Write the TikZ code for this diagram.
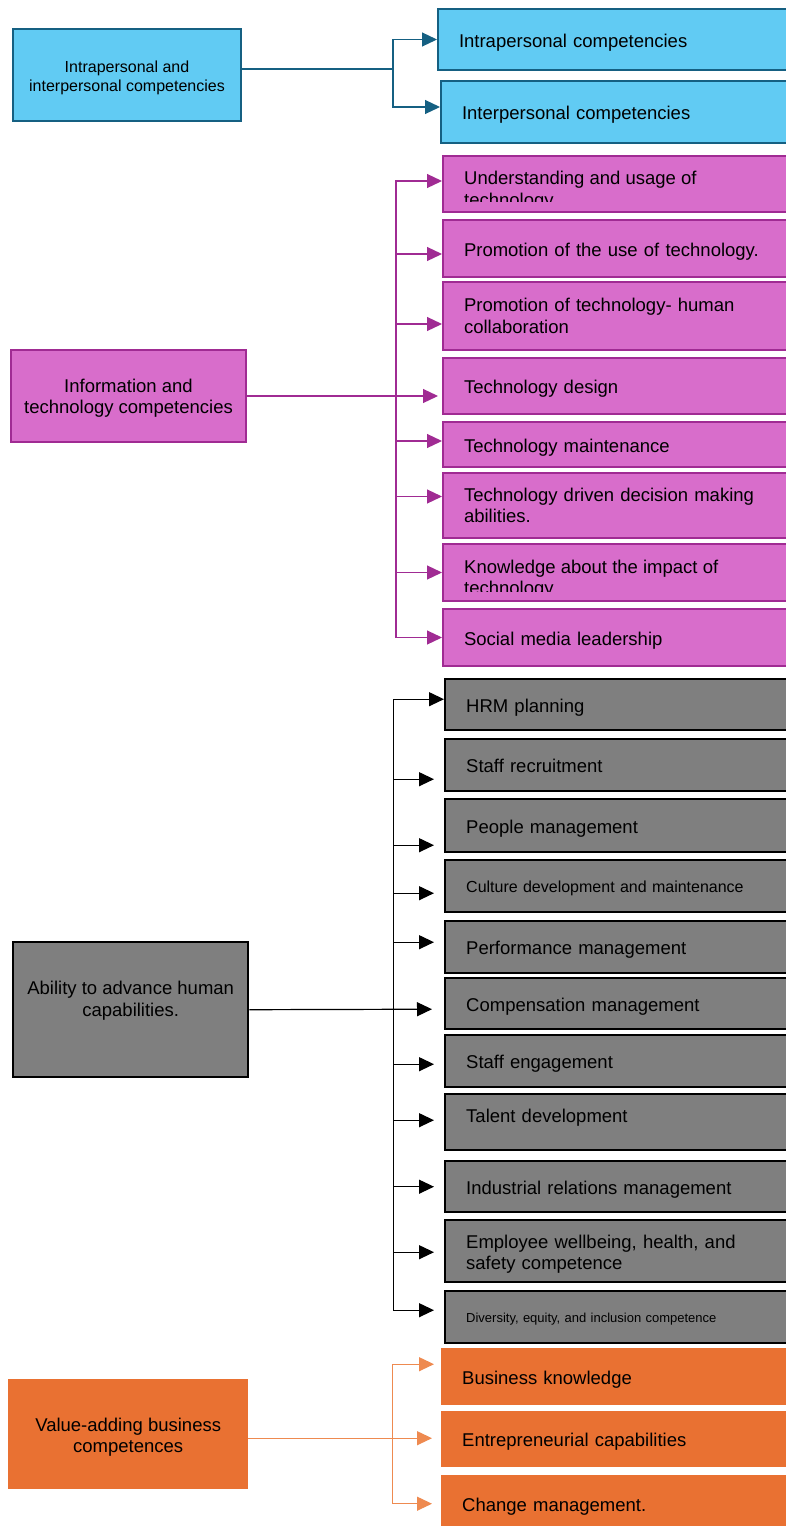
\documentclass[tikz,border=0pt]{standalone}
\usepackage{fontspec}
\setmainfont{Liberation Sans}
\usetikzlibrary{arrows.meta}

\definecolor{skyfill}{HTML}{61CBF3}
\definecolor{skyline}{HTML}{156082}
\definecolor{plumfill}{HTML}{D86DCB}
\definecolor{plumline}{HTML}{A02B93}
\definecolor{greyfill}{HTML}{7F7F7F}
\definecolor{tanfill}{HTML}{E97132}
\definecolor{tanline}{HTML}{EE8A50}

\begin{document}
\begin{tikzpicture}[x=1pt,y=-1pt,
    txt/.style={font=\fontsize{18.5}{21.5}\selectfont},
    catbox/.style={txt,anchor=north west,align=center,inner sep=0pt},
    itembox/.style={txt,anchor=north west,align=left,text width=330pt,%
      inner xsep=21pt,inner ysep=0pt,text height=15pt,text depth=0pt},
    twoline/.style={text height={},text depth={}},
    skybox/.style={fill=skyfill,draw=skyline,line width=2pt},
    plumbox/.style={fill=plumfill,draw=plumline,line width=2pt},
    greybox/.style={fill=greyfill,draw=black,line width=2.4pt},
    tanbox/.style={fill=tanfill},
    link/.style={line width=1.2pt,-{Triangle[length=15pt,width=14pt]}}]
      \useasboundingbox (0,0) rectangle (786,1526) ;

      % intrapersonal / interpersonal
      \node[catbox,skybox,minimum width=228pt,minimum height=92pt,%
      font=\fontsize{16}{19}\selectfont,text height=37pt] (IP) at (12,28) %
      {Intrapersonal and\\interpersonal competencies} ;
      \node[itembox,skybox,minimum height=61pt] (B1) at (437,8) %
      {Intrapersonal competencies} ;
      \node[itembox,skybox,minimum height=62pt] (B2) at (440,80) %
      {Interpersonal competencies} ;
      \draw[skyline,line width=1.2pt] ([yshift=6pt]IP.east) -- ++(151,0) %
      coordinate (skyjoin) ;
      \draw[link,skyline] (skyjoin) |- (B1.west) ;
      \draw[link,skyline] (skyjoin) |- ([yshift=5pt]B2.west) ;

      % information and technology
      \node[catbox,plumbox,minimum width=235pt,minimum height=92pt,%
      text height=39pt] (IT) at (10,349) %
      {Information and\\technology competencies} ;
      \node[itembox,plumbox,minimum height=56pt] (P1) at (442,155) {} ;
      \begin{scope}
        \clip (P1.north west) rectangle ([yshift=12pt]P1.south east) ;
        \node[txt,anchor=north west,align=left,inner sep=0pt] %
        at ([xshift=22pt,yshift=-16pt]P1.north west) %
        {Understanding and usage of\\technology} ;
      \end{scope}
      \node[itembox,plumbox,minimum height=57pt] (P2) at (442,219) %
      {Promotion of the use of technology.} ;
      \node[itembox,twoline,plumbox,minimum height=68pt] (P3) at (442,281) %
      {Promotion of technology- human\\collaboration} ;
      \node[itembox,plumbox,minimum height=56pt] (P4) at (442,357) %
      {Technology design} ;
      \node[itembox,plumbox,minimum height=45pt] (P5) at (442,421) %
      {Technology maintenance} ;
      \node[itembox,twoline,plumbox,minimum height=65pt] (P6) at (442,472) %
      {Technology driven decision making\\abilities.} ;
      \node[itembox,plumbox,minimum height=57pt] (P7) at (442,543) {} ;
      \begin{scope}
        \clip (P7.north west) rectangle ([yshift=11pt]P7.south east) ;
        \node[txt,anchor=north west,align=left,inner sep=0pt] %
        at ([xshift=22pt,yshift=-16.5pt]P7.north west) %
        {Knowledge about the impact of\\technology} ;
      \end{scope}
      \node[itembox,plumbox,minimum height=57pt] (P8) at (442,608) %
      {Social media leadership} ;
      \path (IT.east) -- ++(149,0) coordinate (plumjoin) ;
      \draw[link,plumline] (IT.east) -- ([xshift=-4pt,yshift=-10pt]P4.west) ;
      \foreach \b/\s in {P1/3,P2/-5.5,P3/-8,P5/3.5,P6/9,P7/0,P8/0}
        \draw[link,plumline] (plumjoin) |- ([yshift=\s pt]\b.west) ;

      % human capabilities
      \node[catbox,greybox,minimum width=235pt,minimum height=135pt,%
      text depth=22pt] (AH) at (12,941) %
      {Ability to advance human\\capabilities.} ;
      \node[itembox,greybox,minimum height=51pt] (G1) at (444,678) %
      {HRM planning} ;
      \node[itembox,greybox,minimum height=52pt] (G2) at (444,738) %
      {Staff recruitment} ;
      \node[itembox,greybox,minimum height=53pt] (G3) at (444,798) %
      {People management} ;
      \node[itembox,greybox,minimum height=52pt,%
      font=\fontsize{16}{19}\selectfont,text height=12pt] (G4) %
      at (444,859) {Culture development and maintenance} ;
      \node[itembox,greybox,minimum height=52pt] (G5) at (444,920) %
      {Performance management} ;
      \node[itembox,greybox,minimum height=51pt] (G6) at (444,977) %
      {Compensation management} ;
      \node[itembox,greybox,minimum height=52pt] (G7) at (444,1034) %
      {Staff engagement} ;
      \node[itembox,greybox,minimum height=56pt,text depth=15pt] (G8) %
      at (444,1093) {Talent development} ;
      \node[itembox,greybox,minimum height=51pt] (G9) at (444,1160) %
      {Industrial relations management} ;
      \node[itembox,twoline,greybox,minimum height=62pt,text height=19.5pt] %
      (G10) at (444,1219) {Employee wellbeing, health, and\\safety competence} ;
      \node[itembox,greybox,minimum height=52pt,%
      font=\fontsize{13}{16}\selectfont,text height=10pt] (G11) %
      at (444,1290) {Diversity, equity, and inclusion competence} ;
      \path (AH.east) -- ++(144,0) coordinate (greyjoin) ;
      \draw[link] (AH.east) -- ([xshift=-12pt,yshift=-5.5pt]G6.west) ;
      \draw[link] (greyjoin) |- ([yshift=5.5pt]G1.west) ;
      \foreach \b/\s in {G2/-14,G3/-19.5,G4/-7,G5/5,G7/-3,G8/2,G9/0,G10/-1,G11/7}
        \draw[link] (greyjoin) |- ([xshift=-10pt,yshift=\s pt]\b.west) ;

      % value-adding business
      \node[catbox,tanbox,minimum width=240pt,minimum height=110pt,%
      text height=41pt] (VA) at (8,1379) {Value-adding business\\competences} ;
      \node[itembox,tanbox,minimum height=57pt] (O1) at (441,1348) %
      {Business knowledge} ;
      \node[itembox,tanbox,minimum height=56pt] (O2) at (441,1411) %
      {Entrepreneurial capabilities} ;
      \node[itembox,tanbox,minimum height=57pt] (O3) at (441,1475) %
      {Change management.} ;
      \path ([yshift=-4pt]VA.east) -- ++(144,0) coordinate (tanjoin) ;
      \draw[link,tanline] ([yshift=-4pt]VA.east) -- %
      ([xshift=-9pt,yshift=1pt]O2.west) ;
      \draw[link,tanline] (tanjoin) |- ([xshift=-7pt,yshift=12.5pt]O1.west) ;
      \draw[link,tanline] (tanjoin) |- ([xshift=-9pt]O3.west) ;
    \end{tikzpicture}
\end{document}
